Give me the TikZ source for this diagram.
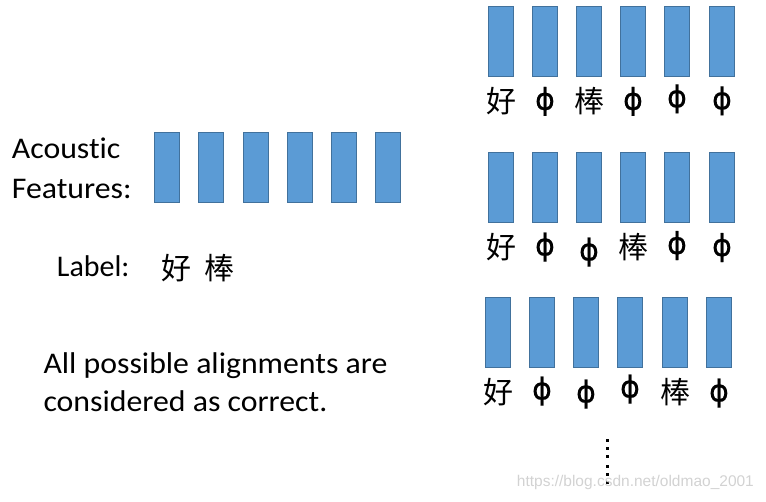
\documentclass[tikz,border=0pt]{standalone}
\usepackage{fontspec}
\setmainfont{Carlito}[Ligatures=NoCommon]
\newfontfamily\widefont{Carlito}[Ligatures=NoCommon,FakeStretch=1.06]
\newfontfamily\cjk{Noto Sans CJK SC}
\newfontfamily\dvs{DejaVu Sans}[FakeBold=0.6]
\newfontfamily\wmfont{Liberation Sans}
\definecolor{featfill}{HTML}{5B9BD5}
\definecolor{featline}{HTML}{41719C}
\begin{document}
\begin{tikzpicture}[x=1pt,y=-1pt,
  feat/.style={draw=featline, fill=featfill, line width=0.9pt, minimum width=24.5pt, minimum height=70.5pt, inner sep=0pt, anchor=north west},
  bigtext/.style={font=\fontsize{30}{36}\selectfont, anchor=base west, inner sep=0pt},
  widetext/.style={font=\widefont\fontsize{30}{36}\selectfont, anchor=base west, inner sep=0pt},
  hanzi/.style={font=\cjk\fontsize{30}{30}\selectfont, inner sep=0pt},
  blank/.style={font=\dvs\fontsize{30}{30}\selectfont, inner sep=0pt},
  wm/.style={font=\wmfont\fontsize{15.5}{16}\selectfont, text=gray!35, anchor=base west, inner sep=0pt},
  dotsq/.style={fill=black}
]
\useasboundingbox (0,0) rectangle (766,502);

% left panel
\node[widetext] (ac) at (11.7,159) {Acoustic};
\node[widetext] (fe) at (11.7,199) {Features:};
\foreach \i/\x in {1/154.3,2/198.3,3/243.3,4/287.3,5/331.3,6/375.3}
  \node[feat] (f\i) at (\x,131.7) {};
\node[bigtext] (lab) at (56.7,277) {Label:};
\node[hanzi] (lh) at (176,268.5) {好};
\node[hanzi] (lb) at (219.5,268.5) {棒};
\node[widetext] (all1) at (43.3,373.3) {All possible alignments are};
\node[widetext] (all2) at (43.3,411.7) {considered as correct.};

% row 1
\foreach \i/\x in {1/488.3,2/532.3,3/576.3,4/620.3,5/664.3,6/709.3}
  \node[feat] (a\i) at (\x,6) {};
\node[hanzi] (a1l) at ([yshift=-24pt]a1.south) {好};
\node[blank] (a2l) at ([yshift=-24pt]a2.south) {ϕ};
\node[hanzi] (a3l) at ([yshift=-24pt]a3.south) {棒};
\node[blank] (a4l) at ([yshift=-24pt]a4.south) {ϕ};
\node[blank] (a5l) at ([yshift=-21.5pt]a5.south) {ϕ};
\node[blank] (a6l) at ([yshift=-23.5pt]a6.south) {ϕ};

% row 2
\foreach \i/\x in {1/488.3,2/532.3,3/576.3,4/620.3,5/664.3,6/709.3}
  \node[feat] (b\i) at (\x,151.7) {};
\node[hanzi] (b1l) at ([yshift=-24pt]b1.south) {好};
\node[blank] (b2l) at ([yshift=-24pt]b2.south) {ϕ};
\node[blank] (b3l) at ([yshift=-29pt]b3.south) {ϕ};
\node[hanzi] (b4l) at ([yshift=-24pt]b4.south) {棒};
\node[blank] (b5l) at ([yshift=-22.5pt]b5.south) {ϕ};
\node[blank] (b6l) at ([yshift=-24.5pt]b6.south) {ϕ};

% row 3
\foreach \i/\x in {1/485.3,2/529.3,3/573.3,4/617.3,5/662.3,6/706.3}
  \node[feat] (c\i) at (\x,296.7) {};
\node[hanzi] (c1l) at ([yshift=-24pt]c1.south) {好};
\node[blank] (c2l) at ([yshift=-23pt]c2.south) {ϕ};
\node[blank] (c3l) at ([yshift=-26pt]c3.south) {ϕ};
\node[blank] (c4l) at ([yshift=-21pt]c4.south) {ϕ};
\node[hanzi] (c5l) at ([yshift=-24pt]c5.south) {棒};
\node[blank] (c6l) at ([yshift=-25pt]c6.south) {ϕ};

% vertical dots
\foreach \y in {440.7,449,456.7,466.7,474.3,482.3}
  \fill[dotsq] (605.5,\y-1.5) rectangle (608.5,\y+1.5);

% watermark
\node[wm] (wmk) at (516.7,486.7) {https://blog.csdn.net/oldmao\_2001};
\end{tikzpicture}
\end{document}
